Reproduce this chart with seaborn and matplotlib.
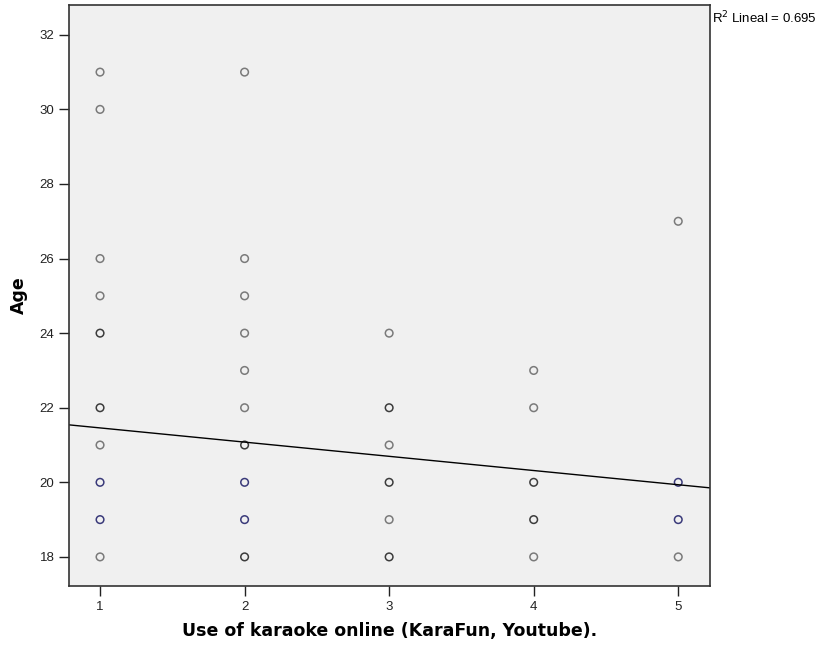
import numpy as np
import pandas as pd
import seaborn as sns
import matplotlib.pyplot as plt

# scatter values (one row per visible circle)
use_online = [1, 1, 1, 1, 1, 1, 1, 1, 1, 1,
              2, 2, 2, 2, 2, 2, 2, 2, 2, 2,
              3, 3, 3, 3, 3, 3,
              4, 4, 4, 4, 4,
              5, 5, 5, 5]
age = [31, 30, 26, 25, 24, 22, 21, 20, 19, 18,
       31, 26, 25, 24, 23, 22, 21, 20, 19, 18,
       24, 22, 21, 20, 19, 18,
       23, 22, 20, 19, 18,
       27, 20, 19, 18]
## how many cases sit on each circle (darker circle = more overlap), estimated
cases = [1, 1, 1, 1, 2, 2, 1, 3, 3, 1,
         1, 1, 1, 1, 1, 1, 2, 3, 3, 2,
         1, 2, 1, 2, 1, 2,
         1, 1, 2, 2, 1,
         1, 3, 3, 1]

# fit line as drawn in the picture
fit_intercept = 21.84
fit_slope = -0.381
r2_text = "R$^2$ Lineal = 0.695"

df = pd.DataFrame({"use": use_online, "age": age, "cases": cases})

plt.rcParams['font.family'] = ['Liberation Sans', 'DejaVu Sans']

fig = plt.figure(figsize=(8.24, 6.48), dpi=100)
ax = fig.add_axes([0.0837, 0.0957, 0.778, 0.8966])
ax.set_facecolor('#f0f0f0')

edge_map = {1: '#7a7a7a', 2: '#3c3c3c', 3: '#3a3a7a'}
for n, grp in df.groupby("cases"):
    sns.scatterplot(data=grp, x="use", y="age", ax=ax, s=30,
                    facecolor='none', edgecolor=edge_map[n], linewidth=1.1,
                    marker='o', legend=False)

ax.set_xlim(0.785, 5.22)
ax.set_ylim(17.22, 32.8)

## regression line across the whole plot area
xs = np.array(ax.get_xlim())
sns.lineplot(x=xs, y=fit_intercept + fit_slope * xs, ax=ax, color='black', linewidth=1.0)
ax.set_xlim(0.785, 5.22)

ax.set_xticks([1, 2, 3, 4, 5])
ax.set_yticks([18, 20, 22, 24, 26, 28, 30, 32])
ax.tick_params(axis='both', direction='out', length=7, width=1, labelsize=9.5, colors='#222222')
for sp in ax.spines.values():
    sp.set_color('#333333')
    sp.set_linewidth(1.2)

ax.set_xlabel("Use of karaoke online (KaraFun, Youtube).", fontsize=12.5, fontweight='bold',
              labelpad=7, family='DejaVu Sans')
ax.set_ylabel("Age", fontsize=12.5, fontweight='bold', labelpad=8, family='DejaVu Sans')

fig.text(0.864, 0.972, r2_text, fontsize=9.5, ha='left', va='center')

fig.savefig('out.png', dpi=100, facecolor='white')
